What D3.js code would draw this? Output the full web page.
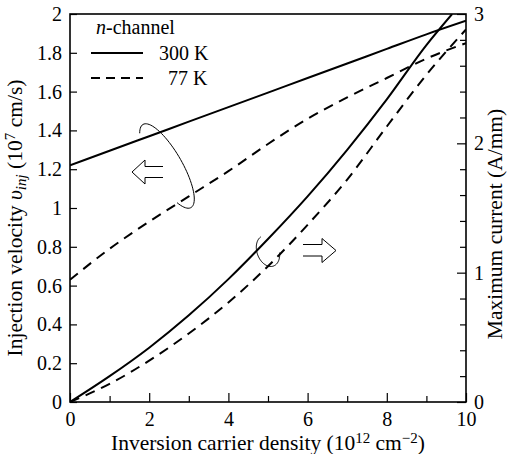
<!DOCTYPE html>
<html><head><meta charset="utf-8">
<script src="https://cdn.jsdelivr.net/npm/d3@7"></script>
<style>
body{margin:0;background:#fff}
</style>
</head><body>
<svg id="c" width="509" height="454"></svg>
<script>
// ---- data ----
const xDensity = [0,1,2,3,4,5,6,7,8,9,10];
const velocity300K = [1.22,1.295,1.37,1.445,1.52,1.595,1.67,1.745,1.82,1.895,1.965];
const velocity77K  = [0.63,0.79,0.93,1.06,1.19,1.33,1.46,1.57,1.67,1.77,1.85];
const xCurrent300K = [0,1,2,3,4,5,6,7,8,9,9.65];
const current300K  = [0,0.20,0.42,0.67,0.95,1.26,1.59,1.95,2.34,2.76,3.0];
const current77K   = [0,0.14,0.32,0.53,0.77,1.05,1.37,1.72,2.13,2.53,2.88];
const xTicks = [0,2,4,6,8,10];
const xMinorTicks = [1,3,5,7,9];
const leftTicks = [0,0.2,0.4,0.6,0.8,1,1.2,1.4,1.6,1.8,2];
const rightTicks = [0,1,2,3];
const rightMinorTicks = [0.2,0.4,0.6,0.8,1.2,1.4,1.6,1.8,2.2,2.4,2.6,2.8];
const legendItems = [{label:"300 K",dash:null},{label:"77 K",dash:"9,6"}];

const svg = d3.select("#c");
const L=70, R=466, T=14, B=402;
const x = d3.scaleLinear().domain([0,10]).range([L,R]);
const yL = d3.scaleLinear().domain([0,2]).range([B,T]);
const yR = d3.scaleLinear().domain([0,3]).range([B,T]);
const fs = 20;
const FF = "'Liberation Serif'";

// clip
svg.append("clipPath").attr("id","clip").append("rect")
  .attr("x",L).attr("y",T).attr("width",R-L).attr("height",B-T);

// frame
svg.append("rect").attr("x",L).attr("y",T).attr("width",R-L).attr("height",B-T)
  .attr("fill","none").attr("stroke","#000").attr("stroke-width",1.6);

// bottom axis
const gx = svg.append("g").attr("transform",`translate(0,${B})`);
gx.call(d3.axisBottom(x).tickValues(xTicks).tickSizeInner(-9).tickSizeOuter(0).tickPadding(17).tickFormat(d3.format("d")));
const gxm = svg.append("g").attr("transform",`translate(0,${B})`);
gxm.call(d3.axisBottom(x).tickValues(xMinorTicks).tickSizeInner(-6).tickSizeOuter(0).tickFormat(""));
// left axis
const gy = svg.append("g").attr("transform",`translate(${L},0)`);
gy.call(d3.axisLeft(yL).tickValues(leftTicks).tickSizeInner(-7).tickSizeOuter(0).tickPadding(8).tickFormat(d=>String(+d.toFixed(1))));
// right axis
const gr = svg.append("g").attr("transform",`translate(${R},0)`);
gr.call(d3.axisRight(yR).tickValues(rightTicks).tickSizeInner(-9).tickSizeOuter(0).tickPadding(8).tickFormat(d3.format("d")));
const grm = svg.append("g").attr("transform",`translate(${R},0)`);
grm.call(d3.axisRight(yR).tickValues(rightMinorTicks).tickSizeInner(-6).tickSizeOuter(0).tickFormat(""));

svg.selectAll(".domain").remove();
svg.selectAll(".tick line").attr("stroke","#000").attr("stroke-width",1.2);
svg.selectAll(".tick text").attr("fill","#000").style("font-family",FF).style("font-size",fs+"px");
gx.selectAll(".tick text").attr("dy","0.35em");

// curves
const plot = svg.append("g").attr("clip-path","url(#clip)");
function addLine(xs, ys, scaleY, dash){
  const line = d3.line().x((d,i)=>x(xs[i])).y(d=>scaleY(d)).curve(d3.curveMonotoneX);
  plot.append("path").attr("d",line(ys)).attr("fill","none").attr("stroke","#000")
    .attr("stroke-width",2).attr("stroke-dasharray",dash||null);
}
addLine(xDensity, velocity300K, yL, null);
addLine(xDensity, velocity77K, yL, "10,7");
addLine(xCurrent300K, current300K, yR, null);
addLine(xDensity, current77K, yR, "10,7");

function txt(sel){ return sel.style("font-family",FF); }

// legend
const lg = svg.append("g");
const nch = txt(lg.append("text")).attr("x",96).attr("y",34).style("font-size",fs+"px");
nch.append("tspan").attr("font-style","italic").text("n");
nch.append("tspan").text("-channel");
legendItems.forEach((it,i)=>{
  const yy = 53 + i*25;
  lg.append("line").attr("x1",91).attr("x2",143).attr("y1",yy).attr("y2",yy)
    .attr("stroke","#000").attr("stroke-width",2.2).attr("stroke-dasharray",it.dash);
  txt(lg.append("text")).attr("x", i===0?159:168).attr("y",yy+7).style("font-size",fs+"px").text(it.label);
});

// annotations: ellipses and arrows
function ellArc(cx,cy,rx,ry,rotDeg,t0,t1){
  const th = rotDeg*Math.PI/180, n=60, pts=[];
  for(let k=0;k<=n;k++){
    const t=(t0+(t1-t0)*k/n)*Math.PI/180;
    const lx=rx*Math.cos(t), ly=ry*Math.sin(t);
    pts.push([cx+lx*Math.cos(th)-ly*Math.sin(th), cy+lx*Math.sin(th)+ly*Math.cos(th)]);
  }
  return d3.line()(pts);
}
svg.append("path").attr("d",ellArc(167,166,15,48,-30,-119,130))
  .attr("fill","none").attr("stroke","#000").attr("stroke-width",1);
svg.append("path").attr("d",ellArc(268,251,11,16,-20,-100,-340))
  .attr("fill","none").attr("stroke","#000").attr("stroke-width",1);
// left hollow arrow
svg.append("path").attr("d","M163,166.5 L145,166.5 L145,160 L132,172 L145,184 L145,177.5 L163,177.5")
  .attr("fill","none").attr("stroke","#000").attr("stroke-width",1);
// right hollow arrow
svg.append("path").attr("d","M303,244.5 L322,244.5 L322,238.5 L336,250.5 L322,262.5 L322,256 L303,256")
  .attr("fill","none").attr("stroke","#000").attr("stroke-width",1);

// axis titles
const tfs = "21.5px", sfs = "15px";
const bt = txt(svg.append("text")).attr("x",(L+R)/2).attr("y",450).attr("text-anchor","middle").style("font-size",tfs);
bt.append("tspan").text("Inversion carrier density (10");
bt.append("tspan").style("font-size",sfs).attr("dy",-7).text("12");
bt.append("tspan").attr("dy",7).text(" cm");
bt.append("tspan").style("font-size",sfs).attr("dy",-7).text("\u22122");
bt.append("tspan").attr("dy",7).text(")");

const lt = txt(svg.append("text")).attr("transform","translate(22,218) rotate(-90)").attr("text-anchor","middle").style("font-size",tfs);
lt.append("tspan").text("Injection velocity ");
lt.append("tspan").attr("font-style","italic").text("\u03C5");
lt.append("tspan").attr("font-style","italic").style("font-size",sfs).attr("dy",4).text("inj");
lt.append("tspan").attr("dy",-4).text(" (10");
lt.append("tspan").style("font-size",sfs).attr("dy",-7).text("7");
lt.append("tspan").attr("dy",7).text(" cm/s)");

txt(svg.append("text")).attr("transform","translate(502,224) rotate(-90)").attr("text-anchor","middle")
  .style("font-size",tfs).text("Maximum current (A/mm)");
</script>
</body></html>
